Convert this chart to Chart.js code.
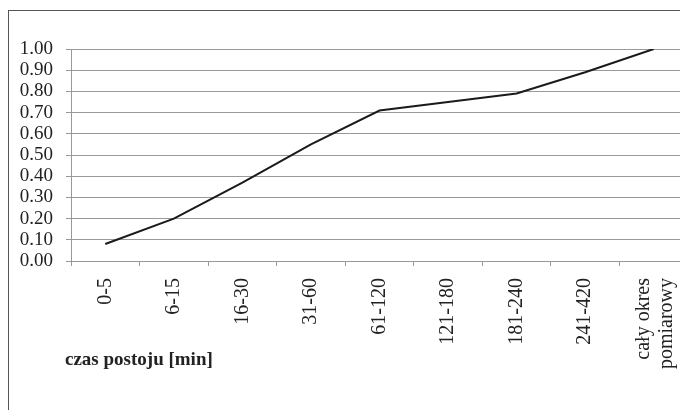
<!DOCTYPE html>
<html>
<head>
<meta charset="utf-8">
<script src="https://cdn.jsdelivr.net/npm/chart.js@4"></script>
<style>
html,body{margin:0;padding:0;background:#fff;overflow:hidden;width:680px;height:410px;}
#wrap{position:absolute;left:0;top:0;width:720px;height:430px;}
</style>
</head>
<body>
<div id="wrap"><canvas id="c" width="720" height="430"></canvas></div>
<script>
const categories = ['0-5','6-15','16-30','31-60','61-120','121-180','181-240','241-420',['cały okres','pomiarowy']];
const values = [0.08, 0.20, 0.37, 0.55, 0.71, 0.75, 0.79, 0.89, 1.00];
const yTicks = [0,0.1,0.2,0.3,0.4,0.5,0.6,0.7,0.8,0.9,1.0];
const axisTitle = 'czas postoju [min]';

const FONT = '"Liberation Serif", "Times New Roman", serif';

const framePlugin = {
  id: 'frame',
  beforeDraw(chart) {
    const ctx = chart.ctx;
    ctx.save();
    ctx.fillStyle = '#fff';
    ctx.fillRect(0,0,chart.width,chart.height);
    ctx.strokeStyle = '#555';
    ctx.lineWidth = 1;
    ctx.strokeRect(8.5, 10.5, 700, 410);
    ctx.restore();
    // centre the two-line last label around its category
    const xs = chart.scales.x;
    const items = xs.getLabelItems();
    const last = items[items.length - 1];
    if (last && Array.isArray(last.label) && !last._shifted) {
      last.options.translation[0] -= 10;
      last._shifted = true;
    }
  },
  afterDraw(chart) {
    const ctx = chart.ctx;
    ctx.save();
    ctx.font = 'bold 19px ' + FONT;
    ctx.fillStyle = '#222';
    ctx.textBaseline = 'middle';
    ctx.textAlign = 'left';
    ctx.fillText(axisTitle, 65, 360);
    ctx.restore();
  }
};

new Chart(document.getElementById('c'), {
  type: 'line',
  data: {
    labels: categories,
    datasets: [{
      data: values,
      borderColor: '#1a1a1a',
      borderWidth: 2,
      pointRadius: 0,
      tension: 0,
      fill: false
    }]
  },
  options: {
    responsive: false,
    animation: false,
    devicePixelRatio: 1,
    layout: { padding: { left: 0, top: 49, right: 32, bottom: 0 } },
    plugins: { legend: { display: false }, tooltip: { enabled: false } },
    scales: {
      x: {
        offset: true,
        grid: { display: true, offset: true, drawOnChartArea: false, drawTicks: true, tickLength: 5, color: '#999', lineWidth: 1 },
        border: { display: true, color: '#999', width: 1 },
        ticks: {
          autoSkip: false, maxRotation: 90, minRotation: 90, padding: 12,
          color: '#222', font: { family: FONT, size: 20, lineHeight: 1.15 }
        },
        afterFit(scale) { scale.height = 430 - 261; }
      },
      y: {
        min: 0, max: 1,
        afterBuildTicks(scale) { scale.ticks = yTicks.map(v => ({ value: v })); },
        grid: { color: '#999', lineWidth: 1, tickLength: 5, drawTicks: true },
        border: { display: true, color: '#999', width: 1 },
        ticks: {
          autoSkip: false,
          padding: 13, color: '#222', font: { family: FONT, size: 19 },
          callback: v => Number(v).toFixed(2)
        },
        afterFit(scale) { scale.width = 71; }
      }
    }
  },
  plugins: [framePlugin]
});
</script>
</body>
</html>
